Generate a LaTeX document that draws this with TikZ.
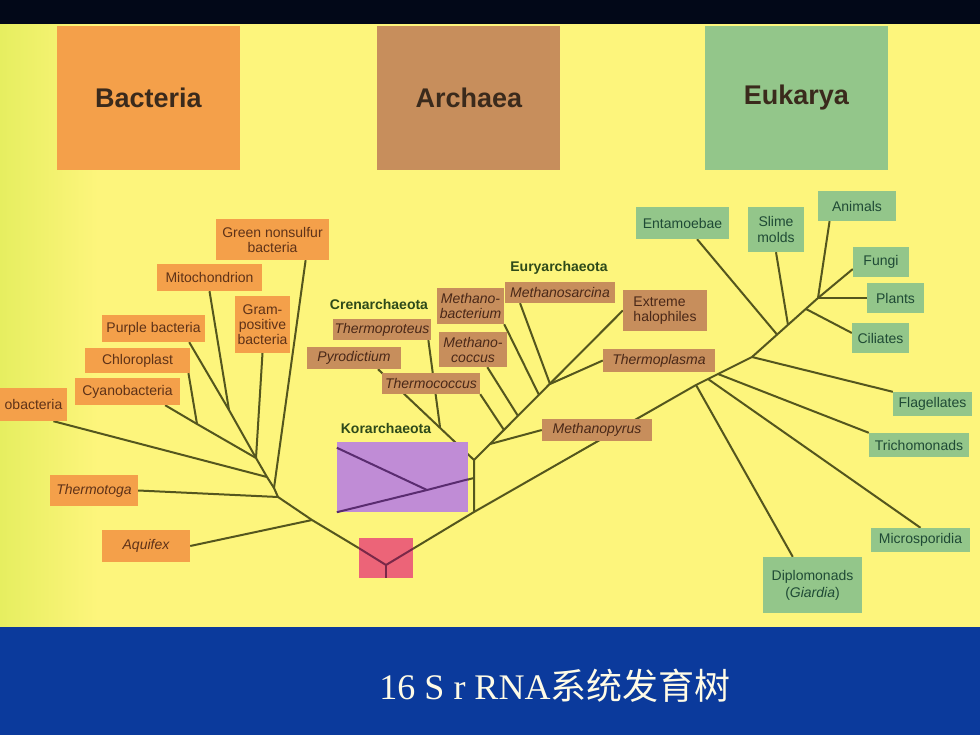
\documentclass[tikz,border=0pt]{standalone}
\usepackage{fontspec}
\setsansfont{Liberation Sans}
\setmainfont{Liberation Serif}
\newfontfamily\cjk{Noto Sans CJK SC}
\usetikzlibrary{positioning, backgrounds}

\definecolor{bactfill}{HTML}{F4A04A}
\definecolor{archfill}{HTML}{C78E5C}
\definecolor{eukfill}{HTML}{93C68A}
\definecolor{headtext}{HTML}{3A2A1C}
\definecolor{bacttext}{HTML}{5E3218}
\definecolor{archtext}{HTML}{4A2818}
\definecolor{euktext}{HTML}{1F4A35}
\definecolor{grouptext}{HTML}{2E4A1A}
\definecolor{branch}{HTML}{54561E}
\definecolor{korfill}{HTML}{C08CD6}
\definecolor{korline}{HTML}{5A2C70}
\definecolor{rootfill}{HTML}{EC6478}
\definecolor{rootline}{HTML}{7A2848}
\definecolor{topband}{HTML}{020818}
\definecolor{lowband}{HTML}{0B3A9C}
\definecolor{paperl}{HTML}{E6EE60}
\definecolor{paper}{HTML}{FDF57C}
\definecolor{titletext}{HTML}{FFFBE6}

% the path is mapped onto 25bp..75bp of the shading
\pgfdeclarehorizontalshading{paperfade}{100bp}{color(0bp)=(paperl); color(25bp)=(paperl); color(30bp)=(paper); color(100bp)=(paper)}
\tikzset{Size/.style 2 args={minimum width=#1pt, minimum height=#2pt}}

\begin{document}
\begin{tikzpicture}[x=1pt, y=-1pt]
		\tikzstyle{Head} = [rectangle, minimum width=183pt, minimum height=144pt, inner sep=0pt, text centered, text=headtext, font=\sffamily\bfseries\fontsize{27}{30}\selectfont]
		\tikzstyle{BactNode} = [rectangle, inner sep=0pt, align=center, fill=bactfill, text=bacttext, font=\sffamily\fontsize{14}{15}\selectfont]
		\tikzstyle{ArchNode} = [rectangle, inner sep=0pt, align=center, fill=archfill, text=archtext, font=\sffamily\itshape\fontsize{14}{15}\selectfont]
		\tikzstyle{EukNode} = [rectangle, inner sep=0pt, align=center, fill=eukfill, text=euktext, font=\sffamily\fontsize{14}{15.5}\selectfont]
		\tikzstyle{Group} = [inner sep=0pt, text=grouptext, font=\sffamily\bfseries\fontsize{14}{15}\selectfont]
		\tikzstyle{Branch} = [draw=branch, line width=2pt, line join=round]
		\tikzstyle{KorLine} = [draw=korline, line width=2pt, line join=round]
		\tikzstyle{RootLine} = [draw=rootline, line width=2pt, line join=round]
		
		\useasboundingbox (0,0) rectangle (980,735);
		
		% domain headers
		\node (bac) [Head, fill=bactfill] at (148.5,98) {Bacteria};
		\node (arc) [Head, fill=archfill, right = 137pt of bac] {Archaea};
		\node (euk) [Head, fill=eukfill, right = 144pt of arc] {Eukarya};
		
		% bacteria
		\node (gns) [BactNode, Size={113}{41}] at (272.5,239.5) {Green nonsulfur\\bacteria};
		\node (mito) [BactNode, Size={105}{27}] at (209.5,277.5) {Mitochondrion};
		\node (gram) [BactNode, Size={55}{57}] at (262.5,324.5) {Gram-\\positive\\bacteria};
		\node (purple) [BactNode, Size={103}{27}] at (153.5,328.5) {Purple bacteria};
		\node (chloro) [BactNode, Size={105}{25}] at (137.5,360.5) {Chloroplast};
		\node (cyano) [BactNode, Size={105}{27}] at (127.5,391.5) {Cyanobacteria};
		\node (obact) [BactNode, Size={67}{33}] at (33.5,404.5) {obacteria};
		\node (toga) [BactNode, Size={88}{31}, font=\sffamily\itshape\fontsize{14}{15}\selectfont] at (94,490.5) {Thermotoga};
		\node (aqui) [BactNode, Size={88}{32}, font=\sffamily\itshape\fontsize{14}{15}\selectfont] at (146,546) {Aquifex};
		
		% archaea
		\node (cren) [Group] at (379,304) {Crenarchaeota};
		\node (eury) [Group] at (559,268) {Euryarchaeota};
		\node (korlbl) [Group] at (386,428) {Korarchaeota};
		\node (tprot) [ArchNode, Size={98}{21}] at (382,329.5) {Thermoproteus};
		\node (pyro) [ArchNode, Size={94}{22}] at (354,358) {Pyrodictium};
		\node (mbac) [ArchNode, Size={67}{36}] at (470.5,306) {Methano-\\bacterium};
		\node (msar) [ArchNode, Size={110}{21}] at (560,292.5) {Methanosarcina};
		\node (mcoc) [ArchNode, Size={68}{35}] at (473,349.5) {Methano-\\coccus};
		\node (tcoc) [ArchNode, Size={98}{21}] at (431,383.5) {Thermococcus};
		\node (halo) [ArchNode, Size={84}{41}, align=left, font=\sffamily\fontsize{14}{15}\selectfont] at (665,310.5) {Extreme\\halophiles};
		\node (tpla) [ArchNode, Size={112}{23}] at (659,360.5) {Thermoplasma};
		\node (mpyr) [ArchNode, Size={110}{22}] at (597,430) {Methanopyrus};
		\node (korbox) [rectangle, inner sep=0pt, fill=korfill, Size={131}{70}] at (402.5,477) {};
		\node (lca) [rectangle, inner sep=0pt, fill=rootfill, Size={54}{40}] at (386,558) {};
		
		% eukarya
		\node (entam) [EukNode, Size={93}{32}] at (682.5,223) {Entamoebae};
		\node (slime) [EukNode, Size={56}{45}] at (776,229.5) {Slime\\molds};
		\node (anim) [EukNode, Size={78}{30}] at (857,206) {Animals};
		\node (fungi) [EukNode, Size={56}{30}] at (881,262) {Fungi};
		\node (plant) [EukNode, Size={57}{30}] at (895.5,298) {Plants};
		\node (cili) [EukNode, Size={57}{30}] at (880.5,338) {Ciliates};
		\node (flag) [EukNode, Size={79}{24}] at (932.5,404) {Flagellates};
		\node (trich) [EukNode, Size={100}{24}] at (919,445) {Trichomonads};
		\node (micro) [EukNode, Size={99}{24}] at (920.5,540) {Microsporidia};
		\node (diplo) [EukNode, Size={99}{56}, font=\sffamily\fontsize{14}{17}\selectfont] at (812.5,585) {Diplomonads\\(\textit{Giardia})};
		
		\node (title) [text=titletext, font=\rmfamily\fontsize{36}{40}\selectfont] at (555,686) {16 S r RNA{\cjk 系统发育树}};
		
		\begin{scope}[on background layer]
		\shade[shading=paperfade] (0,20) rectangle (980,630);
		\fill[topband] (0,0) rectangle (980,24);
		\fill[lowband] (0,627) rectangle (980,735);
		
		% bacterial branches
		\coordinate (bA) at (312,520);
		\coordinate (b1) at (278,497);
		\coordinate (b2) at (274,488);
		\coordinate (b3) at (267,477);
		\coordinate (b4) at (256,458);
		\coordinate (bm) at (229,410);
		\coordinate (bc) at (197,424);
		\draw[Branch] (lca.160) -- (bA) -- (b1) -- (b2) -- (b3) -- (b4);
		\draw[Branch] (aqui.east) -- (bA);
		\draw[Branch] (toga.east) -- (b1);
		\draw[Branch] (gns.-32) -- (b2);
		\draw[Branch] (obact.-40) -- (b3);
		\draw[Branch] (gram.south) -- (b4);
		\draw[Branch] (purple.-21) -- (bm) -- (b4);
		\draw[Branch] (mito.south) -- (bm);
		\draw[Branch] (cyano.-20) -- (bc) -- (b4);
		\draw[Branch] (chloro.-14.5) -- (bc);
		
		% archaeal branches
		\coordinate (aR) at (474,512);
		\coordinate (aK) at (474,478);
		\coordinate (aC) at (474,460);
		\coordinate (kJ) at (427,490);
		\coordinate (cJ) at (440,427);
		\coordinate (e1) at (490,444);
		\coordinate (e2) at (504,430);
		\coordinate (e3) at (518,416);
		\coordinate (e4) at (539,395);
		\coordinate (e5) at (550,384);
		\draw[Branch] (lca.19) -- (aR) -- (aC) -- (halo.west);
		\draw[Branch] (pyro.-25) -- (aC);
		\draw[Branch] (tprot.-13) -- (cJ);
		\draw[Branch] (kJ) -- (aK);
		\draw[Branch] (mpyr.west) -- (e1);
		\draw[Branch] (tcoc.south east) -- (e2);
		\draw[Branch] (mcoc.-51) -- (e3);
		\draw[Branch] (mbac.south east) -- (e4);
		\draw[Branch] (msar.195) -- (e5);
		\draw[Branch] (tpla.west) -- (e5);
		
		% eukaryal branches
		\coordinate (E1) at (696,385);
		\coordinate (E2) at (708,379);
		\coordinate (E3) at (718,374);
		\coordinate (E4) at (752,357);
		\coordinate (E5) at (777,334.5);
		\coordinate (E6) at (788,325);
		\coordinate (E7) at (806,309);
		\coordinate (E8) at (818,298);
		\draw[Branch] (aR) -- (E1) -- (E4) -- (E8) -- (fungi.194);
		\draw[Branch] (diplo.125) -- (E1);
		\draw[Branch] (micro.north) -- (E2);
		\draw[Branch] (trich.north west) -- (E3);
		\draw[Branch] (flag.north west) -- (E4);
		\draw[Branch] (entam.-48) -- (E5);
		\draw[Branch] (slime.south) -- (E6);
		\draw[Branch] (cili.170) -- (E7);
		\draw[Branch] (plant.west) -- (E8);
		\draw[Branch] (anim.209) -- (E8);
		\end{scope}
		
		% lines over the coloured boxes
		\coordinate (root) at (386,565);
		\draw[RootLine] (lca.160) -- (root) -- (lca.19);
		\draw[RootLine] (root) -- (lca.south);
		\draw[KorLine] (korbox.156) -- (kJ);
		\draw[KorLine] (korbox.south west) -- (kJ) -- (korbox.-2);
\end{tikzpicture}
\end{document}
